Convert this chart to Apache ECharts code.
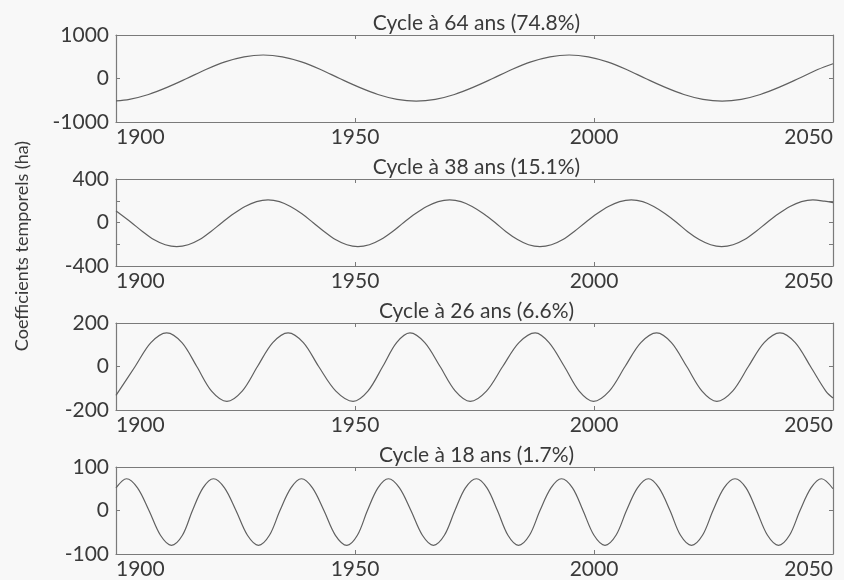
<!DOCTYPE html>
<html>
<head>
<meta charset="utf-8">
<script src="https://cdn.jsdelivr.net/npm/echarts@6/dist/echarts.min.js"></script>
<style>
html,body{margin:0;padding:0;background:#f8f8f8;}
#chart{width:844px;height:580px;}
</style>
</head>
<body>
<div id="chart"></div>
<script>
// ---- Data ----
const panelTitles = ['Cycle à 64 ans (74.8%)', 'Cycle à 38 ans (15.1%)', 'Cycle à 26 ans (6.6%)', 'Cycle à 18 ans (1.7%)'];
const yAxisName = 'Coefficients temporels (ha)';
const xTicks = [1900, 1950, 2000, 2050];

// Cycle 64 years
const years64 = [1900, 1902.8, 1906.8, 1910.8, 1914.8, 1918.8, 1922.8, 1926.8, 1930.8, 1934.8, 1938.8, 1942.8, 1946.8, 1950.8, 1954.8, 1958.8, 1962.8, 1966.8, 1970.8, 1974.8, 1978.8, 1982.8, 1986.8, 1990.8, 1994.8, 1998.8, 2002.8, 2006.8, 2010.8, 2014.8, 2018.8, 2022.8, 2026.8, 2030.8, 2034.8, 2038.8, 2042.8, 2046.8, 2050];
const vals64  = [-515, -480, -368, -199, 0, 207, 382, 499, 540, 499, 382, 207, 0, -199, -368, -480, -520, -480, -368, -199, 0, 207, 382, 499, 540, 499, 382, 207, 0, -199, -368, -480, -520, -480, -368, -199, 0, 207, 340];

// Cycle 38 years
const years38 = [1900, 1900.8, 1903.2, 1905.6, 1907.9, 1910.3, 1912.7, 1915.1, 1917.5, 1919.8, 1922.2, 1924.6, 1927.0, 1929.4, 1931.8, 1934.2, 1936.5, 1938.9, 1941.2, 1943.6, 1945.9, 1948.3, 1950.6, 1953.0, 1955.4, 1957.8, 1960.2, 1962.6, 1965.0, 1967.4, 1969.8, 1972.2, 1974.5, 1976.9, 1979.3, 1981.6, 1984.0, 1986.3, 1988.7, 1991.1, 1993.5, 1995.8, 1998.2, 2000.6, 2003.0, 2005.4, 2007.8, 2010.2, 2012.5, 2014.9, 2017.3, 2019.6, 2022.0, 2024.4, 2026.7, 2029.1, 2031.5, 2033.8, 2036.2, 2038.6, 2041.0, 2043.4, 2045.8, 2048.2, 2050];
const vals38  = [105, 80, 0, -85, -157, -205, -222, -205, -157, -85, 0, 80, 147, 192, 208, 192, 147, 80, 0, -85, -157, -205, -222, -205, -157, -85, 0, 80, 147, 192, 208, 192, 147, 80, 0, -85, -157, -205, -222, -205, -157, -85, 0, 80, 147, 192, 208, 192, 147, 80, 0, -85, -157, -205, -222, -205, -157, -85, 0, 80, 147, 192, 208, 196, 182];

// Cycle 26 years
const years26 = [1900, 1904.0, 1907.3, 1910.6, 1913.8, 1916.9, 1920.0, 1923.2, 1926.4, 1929.6, 1932.8, 1936.0, 1939.2, 1942.4, 1946.0, 1949.6, 1952.7, 1955.8, 1958.7, 1961.5, 1964.6, 1967.8, 1971.0, 1974.1, 1977.5, 1980.9, 1984.3, 1987.7, 1990.6, 1993.8, 1996.9, 1999.9, 2003.2, 2006.5, 2009.8, 2013.1, 2016.2, 2019.4, 2022.6, 2025.7, 2029.0, 2032.3, 2035.6, 2038.9, 2042.1, 2045.3, 2048.5, 2050];
const vals26  = [-133, 0, 110, 155, 110, 0, -113, -160, -113, 0, 110, 155, 110, 0, -113, -160, -113, 0, 110, 155, 110, 0, -113, -160, -113, 0, 110, 155, 110, 0, -113, -160, -113, 0, 110, 155, 110, 0, -113, -160, -113, 0, 110, 155, 110, 0, -113, -145];

// Cycle 18 years
const years18 = [1900, 1902.2, 1904.5, 1906.9, 1909.3, 1911.6, 1913.9, 1916.0, 1918.2, 1920.4, 1922.7, 1925.1, 1927.5, 1929.8, 1932.1, 1934.3, 1936.6, 1938.8, 1941.1, 1943.5, 1945.9, 1948.3, 1950.5, 1952.6, 1954.8, 1957.0, 1959.3, 1961.7, 1964.1, 1966.4, 1968.7, 1970.9, 1973.1, 1975.4, 1977.6, 1979.8, 1982.0, 1984.2, 1986.5, 1988.7, 1991.0, 1993.2, 1995.5, 1997.7, 2000.0, 2002.3, 2004.6, 2006.8, 2009.1, 2011.4, 2013.6, 2015.9, 2018.1, 2020.4, 2022.7, 2024.9, 2027.2, 2029.5, 2031.8, 2034.0, 2036.3, 2038.6, 2040.9, 2043.1, 2045.4, 2047.6, 2050];
const vals18  = [52, 73, 52, 0, -57, -80, -57, 0, 52, 73, 52, 0, -57, -80, -57, 0, 52, 73, 52, 0, -57, -80, -57, 0, 52, 73, 52, 0, -57, -80, -57, 0, 52, 73, 52, 0, -57, -80, -57, 0, 52, 73, 52, 0, -57, -80, -57, 0, 52, 73, 52, 0, -57, -80, -57, 0, 52, 73, 52, 0, -57, -80, -57, 0, 52, 73, 50];

// y-axis ranges and label values
const yMin = [-1000, -400, -200, -100];
const yMax = [1000, 400, 200, 100];
const yInterval = [1000, 200, 200, 100];
const yLabels = [[-1000, 0, 1000], [-400, 0, 400], [-200, 0, 200], [-100, 0, 100]];

// ---- Build chart ----
const seriesYears = [years64, years38, years26, years18];
const seriesVals = [vals64, vals38, vals26, vals18];

const FONT = 'Lato, "Open Sans", sans-serif';
const TEXT = '#3a3a3a';
const BOX = '#7a7a7a';
const LINE = '#606060';
const gridTops = [35, 179, 323, 467];
const gridH = 87;
const gridLeft = 116, gridRight = 11;

const grids = [], xAxes = [], yAxes = [], series = [], graphics = [];
for (let i = 0; i < 4; i++) {
  grids.push({left: gridLeft, right: gridRight, top: gridTops[i], height: gridH, containLabel: false});
  const xBase = {
    type: 'value', gridIndex: i, min: xTicks[0], max: xTicks[xTicks.length - 1], interval: 50,
    axisLine: {show: true, onZero: false, lineStyle: {color: BOX, width: 1.2}},
    axisTick: {show: true, inside: true, length: 4, lineStyle: {color: BOX}},
    splitLine: {show: false}
  };
  xAxes.push(Object.assign({}, xBase, {
    position: 'bottom',
    axisLabel: {show: true, color: TEXT, fontSize: 21, fontFamily: FONT, margin: 5,
      alignMinLabel: 'left', alignMaxLabel: 'right', formatter: v => String(v)}
  }));
  xAxes.push(Object.assign({}, xBase, {position: 'top', axisLabel: {show: false}}));

  const labs = yLabels[i];
  const yBase = {
    type: 'value', gridIndex: i, min: yMin[i], max: yMax[i], interval: yInterval[i],
    axisLine: {show: true, onZero: false, lineStyle: {color: BOX, width: 1.2}},
    axisTick: {show: true, inside: true, length: 4, lineStyle: {color: BOX}},
    splitLine: {show: false}
  };
  yAxes.push(Object.assign({}, yBase, {
    position: 'left',
    axisLabel: {show: true, color: TEXT, fontSize: 21, fontFamily: FONT, margin: 7,
      formatter: v => labs.indexOf(v) >= 0 ? String(v) : ''}
  }));
  yAxes.push(Object.assign({}, yBase, {position: 'right', axisLabel: {show: false}}));

  series.push({
    type: 'line', xAxisIndex: 2 * i, yAxisIndex: 2 * i,
    data: seriesYears[i].map((y, k) => [y, seriesVals[i][k]]),
    smooth: 0.33, showSymbol: false, silent: true,
    lineStyle: {color: LINE, width: 1.2}
  });

  graphics.push({
    type: 'text', x: gridLeft + (844 - gridLeft - gridRight) / 2 + 2, y: gridTops[i] - 12,
    style: {text: panelTitles[i], fill: TEXT, font: '21px ' + FONT, align: 'center', verticalAlign: 'middle'}
  });
}
graphics.push({
  type: 'text', x: 22, y: 246, rotation: Math.PI / 2,
  style: {text: yAxisName, fill: TEXT, font: '18px ' + FONT, align: 'center', verticalAlign: 'middle'}
});

const chart = echarts.init(document.getElementById('chart'), null, {renderer: 'canvas'});
chart.setOption({
  backgroundColor: '#f8f8f8',
  animation: false,
  grid: grids,
  xAxis: xAxes,
  yAxis: yAxes,
  series: series,
  graphic: graphics
});
</script>
</body>
</html>
